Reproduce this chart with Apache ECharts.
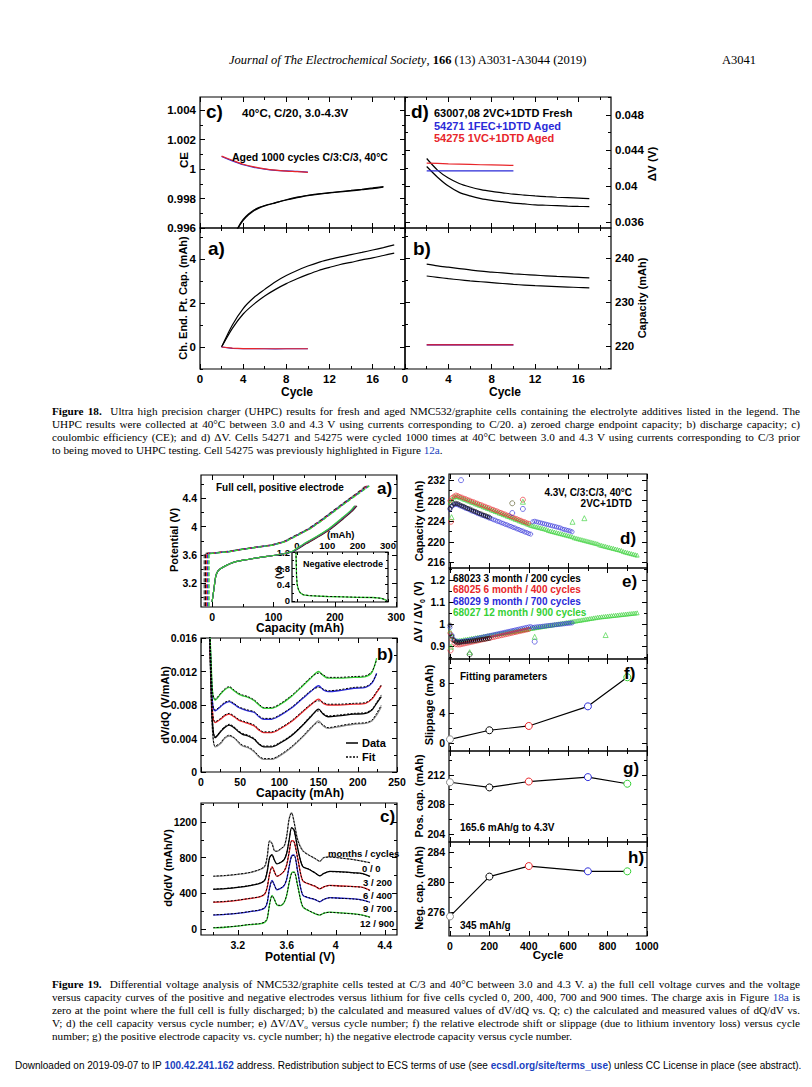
<!DOCTYPE html>
<html>
<head>
<meta charset="utf-8">
<script src="https://cdn.jsdelivr.net/npm/echarts@6.0.0/dist/echarts.min.js"></script>
<style>
html,body{margin:0;padding:0;background:#fff;}
#page{position:relative;width:812px;height:1087px;overflow:hidden;background:#fff;}
#chart{position:absolute;left:0;top:0;width:812px;height:1087px;}
.serif{font-family:"Liberation Serif","Times New Roman",serif;color:#000;}
.hdr{position:absolute;top:52px;font-size:12.5px;line-height:16px;white-space:nowrap;}
.cap{position:absolute;left:52px;width:748px;font-size:11.2px;line-height:13px;}
.cap div{height:13px;text-align:justify;text-align-last:justify;}
.cap div.last{text-align:left;text-align-last:left;}
.sub{font-size:7px;line-height:0;position:relative;top:2px;}
.lnk{color:#1a3fbf;}
.foot{position:absolute;left:15px;top:1059px;font-family:"Liberation Sans Narrow","Liberation Sans",Arial,sans-serif;font-size:10px;line-height:14px;white-space:nowrap;color:#000;}
.foot b{color:#1a3fbf;}
</style>
</head>
<body>
<div id="page">
<div id="chart"></div>
<div class="serif hdr" style="left:229px"><i>Journal of The Electrochemical Society</i>, <b>166</b> (13) A3031-A3044 (2019)</div>
<div class="serif hdr" style="left:722px">A3041</div>
<div class="serif cap" style="top:405px">
<div><b>Figure 18.</b>&nbsp; Ultra high precision charger (UHPC) results for fresh and aged NMC532/graphite cells containing the electrolyte additives listed in the legend. The</div>
<div>UHPC results were collected at 40°C between 3.0 and 4.3 V using currents corresponding to C/20. a) zeroed charge endpoint capacity; b) discharge capacity; c)</div>
<div>coulombic efficiency (CE); and d) ΔV. Cells 54271 and 54275 were cycled 1000 times at 40°C between 3.0 and 4.3 V using currents corresponding to C/3 prior</div>
<div class="last">to being moved to UHPC testing. Cell 54275 was previously highlighted in Figure <span class="lnk">12a</span>.</div>
</div>
<div class="serif cap" style="top:978px">
<div><b>Figure 19.</b>&nbsp; Differential voltage analysis of NMC532/graphite cells tested at C/3 and 40°C between 3.0 and 4.3 V. a) the full cell voltage curves and the voltage</div>
<div>versus capacity curves of the positive and negative electrodes versus lithium for five cells cycled 0, 200, 400, 700 and 900 times. The charge axis in Figure <span class="lnk">18a</span> is</div>
<div>zero at the point where the full cell is fully discharged; b) the calculated and measured values of dV/dQ vs. Q; c) the calculated and measured values of dQ/dV vs.</div>
<div>V; d) the cell capacity versus cycle number; e) ΔV/ΔV<span class="sub">o</span> versus cycle number; f) the relative electrode shift or slippage (due to lithium inventory loss) versus cycle</div>
<div class="last">number; g) the positive electrode capacity vs. cycle number; h) the negative electrode capacity versus cycle number.</div>
</div>
<div class="foot">Downloaded on 2019-09-07 to IP <b>100.42.241.162</b> address. Redistribution subject to ECS terms of use (see <b>ecsdl.org/site/terms_use</b>) unless CC License in place (see abstract).</div>
</div>
<script>
// ======================= DATA =======================
// ---- Figure 18 ----
const F18_XTICKS = [0, 4, 8, 12, 16];
const F18C_YTICKS = [0.996, 0.998, 1.000, 1.002, 1.004];
const F18D_YTICKS = [0.036, 0.040, 0.044, 0.048];
const F18A_YTICKS = [0, 2, 4];
const F18B_YTICKS = [220, 230, 240];

const f18Cyc = [2,3,4,5,6,7,8,9,10,11,12,13,14,15,16,17,18];
const f18aFresh1 = [0,1.0,1.75,2.25,2.62,2.97,3.25,3.48,3.68,3.85,3.98,4.1,4.2,4.3,4.41,4.52,4.64];
const f18aFresh2 = [0,0.85,1.5,1.95,2.32,2.62,2.88,3.1,3.3,3.48,3.62,3.75,3.85,3.96,4.05,4.16,4.27];
const f18AgedCyc = [2,3,4,5,6,7,8,9,10];
const f18aRed  = [0,-0.05,-0.07,-0.07,-0.08,-0.08,-0.08,-0.08,-0.08];
const f18aBlue = [0,-0.06,-0.08,-0.08,-0.08,-0.09,-0.08,-0.08,-0.08];
const f18bCyc = [2,3,4,5,6,7,8,9,10,11,12,13,14,15,16,17];
const f18bFresh1 = [238.6,238.2,237.9,237.6,237.3,237.0,236.8,236.6,236.4,236.25,236.1,235.95,235.8,235.7,235.6,235.5];
const f18bFresh2 = [235.9,235.6,235.3,235.05,234.8,234.6,234.4,234.2,234.0,233.85,233.7,233.6,233.5,233.4,233.3,233.2];
const f18bRed  = [220.3,220.3,220.3,220.3,220.3,220.3,220.3,220.3,220.3];
const f18bBlue = [220.25,220.25,220.25,220.25,220.25,220.25,220.25,220.25,220.25];
const f18cFreshCyc = [3,3.5,4,4.5,5,5.5,6,7,8,9,10,11,12,13,14,15,16,17];
const f18cFresh1 = [0.9952,0.9960,0.99658,0.99695,0.99722,0.99740,0.99753,0.99772,0.9979,0.99806,0.9982,0.9983,0.9984,0.99848,0.99855,0.99863,0.99872,0.99882];
const f18cFresh2 = [0.9951,0.99595,0.99652,0.9969,0.99718,0.99737,0.99750,0.99771,0.99792,0.9981,0.99822,0.99832,0.99838,0.99845,0.99852,0.9986,0.99868,0.99878];
const f18cRed  = [1.00088,1.00060,1.00033,1.00015,1.00002,0.99993,0.99987,0.99983,0.99978];
const f18cBlue = [1.00086,1.00056,1.00030,1.00012,1.00000,0.99992,0.99988,0.99985,0.99980];
const f18dCyc = [2,3,4,5,6,7,8,9,10,11,12,13,14,15,16,17];
const f18dFresh1 = [0.0431,0.0418,0.0409,0.0403,0.0399,0.0396,0.0394,0.03925,0.0391,0.0390,0.0389,0.03882,0.03875,0.0387,0.03865,0.0386];
const f18dFresh2 = [0.0422,0.0410,0.0400,0.0393,0.0389,0.0386,0.0384,0.03825,0.0381,0.0380,0.0379,0.03785,0.0378,0.03775,0.03772,0.0377];
const f18dRed  = [0.04258,0.04255,0.0425,0.04247,0.04244,0.0424,0.04238,0.04235,0.04232];
const f18dBlue = [0.04172,0.04172,0.04172,0.04172,0.04172,0.04172,0.04172,0.04172,0.04172];

// ---- Figure 19 a ----
const F19A_XTICKS = [0, 100, 200, 300];
const F19A_YTICKS = [3.2, 3.6, 4.0, 4.4];
const INSET_XTICKS = [0, 100, 200, 300];
const INSET_YTICKS = [0, 0.4, 0.8, 1.2];
const posV = [2.88,3.62,3.63,3.65,3.68,3.71,3.74,3.79,3.88,3.97,4.09,4.22,4.35,4.47,4.57];
const posCapGray  = [-13,-13,4,26,47,72,97,117,137,157,177,197,217,236,250];
const posCapBlack = [-11,-11,6,27,48,73,98,118,138,158,178,198,218,237,252];
const posCapRed   = [-9,-9,7,28,49,74,99,119,139,159,179,199,219,238,253];
const posCapBlue  = [-7,-7,8,29,49,74,99,119,139,159,179,199,219,239,255];
const posCapGreen = [-5,-5,10,30,50,75,100,120,140,160,180,200,220,240,256];
const fullV = [2.94,3.12,3.30,3.38,3.43,3.50,3.54,3.57,3.60,3.65,3.76,3.86,3.97,4.11,4.22,4.29];
const fullCapGray  = [0,3,6,10,18,36,60,81,105,133,154,174,194,214,229,236];
const fullCapBlack = [0,3,6,10,18,36,60,81,105,132,153,173,193,213,228,235];
const fullCapRed   = [0,3,6,10,18,36,60,81,105,131,152,172,192,212,227,234];
const fullCapBlue  = [0,3,6,10,18,36,60,81,105,131,151,171,191,211,226,233];
const fullCapGreen = [0,3,6,10,18,36,60,81,105,130,150,170,190,210,225,232];
const negCap = [-3,-2,-1,1,5,11,21,40,70,100,150,200,250,275,288,296];
const negV   = [1.2,0.9,0.6,0.4,0.28,0.2,0.15,0.13,0.12,0.11,0.10,0.09,0.085,0.07,0.04,0.01];
const negFitV= [1.2,0.92,0.62,0.41,0.29,0.2,0.155,0.132,0.121,0.112,0.101,0.092,0.084,0.068,0.042,0.012];

// ---- Figure 19 b (dV/dQ) ----
const F19B_XTICKS = [0, 50, 100, 150, 200, 250];
const F19B_YTICKS = [0, 0.004, 0.008, 0.012, 0.016];
const bCap = [10,13,15,18,25,30,36,42,48,53,60,68,74,80,90,100,115,130,140,150,156,162,175,195,210,218,224,230];
const bGray  = [0.0200,0.0090,0.0045,0.0030,0.0034,0.0040,0.0043,0.0041,0.0035,0.0031,0.0029,0.0024,0.0018,0.0015,0.0015,0.0019,0.0029,0.0042,0.0052,0.0061,0.0055,0.0052,0.0054,0.0057,0.0058,0.0061,0.0068,0.0078];
const bBlack = [0.0200,0.0100,0.0055,0.0041,0.0048,0.0053,0.0056,0.0053,0.0048,0.0045,0.0043,0.0039,0.0033,0.0030,0.0030,0.0034,0.0043,0.0056,0.0066,0.0075,0.0069,0.0066,0.0067,0.0069,0.0070,0.0074,0.0082,0.0090];
const bRed   = [0.0200,0.0110,0.0068,0.0059,0.0063,0.0067,0.0069,0.0066,0.0062,0.0060,0.0058,0.0055,0.0050,0.0047,0.0047,0.0051,0.0060,0.0072,0.0080,0.0087,0.0082,0.0080,0.0080,0.0081,0.0082,0.0087,0.0095,0.0103];
const bBlue  = [0.0200,0.0120,0.0080,0.0073,0.0078,0.0082,0.0084,0.0081,0.0077,0.0075,0.0073,0.0071,0.0066,0.0063,0.0063,0.0067,0.0076,0.0088,0.0096,0.0103,0.0098,0.0096,0.0097,0.0100,0.0101,0.0106,0.0118];
const bGreen = [0.0200,0.0130,0.0093,0.0086,0.0093,0.0098,0.0101,0.0097,0.0093,0.0091,0.0089,0.0085,0.0080,0.0076,0.0076,0.0080,0.0090,0.0103,0.0112,0.0120,0.0115,0.0112,0.0112,0.0113,0.0114,0.0119,0.0136];
const bGrayFit  = [0.0200,0.0088,0.0046,0.0031,0.0035,0.0041,0.0044,0.0041,0.0036,0.0032,0.0030,0.0025,0.0019,0.0016,0.0016,0.0020,0.0030,0.0043,0.0053,0.0059,0.0056,0.0053,0.0055,0.0058,0.0059,0.0062,0.0070,0.0080];
const bBlackFit = [0.0200,0.0098,0.0056,0.0042,0.0049,0.0054,0.0057,0.0054,0.0049,0.0046,0.0044,0.0040,0.0034,0.0031,0.0031,0.0035,0.0044,0.0057,0.0067,0.0073,0.0070,0.0067,0.0068,0.0070,0.0071,0.0075,0.0083,0.0092];
const bRedFit   = [0.0200,0.0108,0.0069,0.0060,0.0064,0.0068,0.0070,0.0067,0.0063,0.0061,0.0059,0.0056,0.0051,0.0048,0.0048,0.0052,0.0061,0.0073,0.0081,0.0085,0.0083,0.0081,0.0081,0.0082,0.0083,0.0088,0.0096,0.0104];
const bBlueFit  = [0.0200,0.0118,0.0081,0.0074,0.0079,0.0083,0.0085,0.0082,0.0078,0.0076,0.0074,0.0072,0.0067,0.0064,0.0064,0.0068,0.0077,0.0089,0.0097,0.0101,0.0099,0.0097,0.0098,0.0101,0.0102,0.0107,0.0117];
const bGreenFit = [0.0200,0.0128,0.0094,0.0087,0.0094,0.0099,0.0102,0.0098,0.0094,0.0092,0.0090,0.0086,0.0081,0.0077,0.0077,0.0081,0.0091,0.0104,0.0113,0.0118,0.0116,0.0113,0.0113,0.0114,0.0115,0.0120,0.0134];

// ---- Figure 19 c (dQ/dV) ----
const F19C_XTICKS = [3.2, 3.6, 4.0, 4.4];
const F19C_YTICKS = [0, 400, 800, 1200];
const cV = [3.00,3.10,3.20,3.30,3.38,3.42,3.44,3.46,3.48,3.50,3.52,3.55,3.58,3.60,3.62,3.64,3.66,3.69,3.73,3.78,3.83,3.87,3.90,3.95,4.05,4.15,4.22,4.28];
const cGray  = [589,598,612,632,665,700,800,990,960,880,870,895,930,1040,1240,1305,1200,1000,880,830,790,758,800,808,795,778,760,745];
const cBlack = [444,453,467,487,511,545,640,800,833,770,730,745,780,850,1000,1135,1110,900,700,670,630,595,620,645,640,630,620,590];
const cRed   = [300,308,322,342,360,390,460,620,700,640,590,610,650,720,860,990,980,790,540,505,480,450,470,489,482,476,467,433];
const cBlue  = [156,163,175,195,212,235,290,460,544,490,440,455,490,560,700,820,830,640,380,350,330,305,330,352,345,338,325,300];
const cGreen = [12,20,32,50,58,75,110,280,378,330,270,262,300,380,520,630,640,480,250,205,172,156,175,189,180,170,156,133];
const cGrayFit  = [592,600,614,634,668,705,810,985,955,875,872,898,935,1050,1235,1300,1195,990,875,828,792,760,798,806,793,776,758,743];
const cBlackFit = [447,455,469,489,514,550,650,795,828,768,732,748,785,855,1005,1130,1105,895,705,672,632,598,622,643,638,628,618,588];
const cRedFit   = [303,310,324,344,363,395,470,615,695,638,592,612,655,725,865,985,975,785,545,507,482,452,472,487,480,474,465,431];
const cBlueFit  = [159,165,177,197,215,240,300,455,540,488,442,458,495,565,705,815,825,635,385,352,332,307,332,350,343,336,323,298];
const cGreenFit = [15,22,34,52,61,80,120,275,372,328,272,265,305,385,525,625,635,475,255,207,174,158,177,187,178,168,154,131];

// ---- Figure 19 d / e (versus cycle) ----
const F19R_XTICKS = [0, 200, 400, 600, 800, 1000];
const F19D_YTICKS = [216, 220, 224, 228, 232];
const F19E_YTICKS = [0.9, 1.0, 1.1, 1.2];
const F19F_YTICKS = [0, 4, 8];
const F19G_YTICKS = [204, 208, 212];
const F19H_YTICKS = [276, 280, 284];
const dCyc = [0,10,20,30,40,50,60,70,80,90,100,110,120,130,140,150,160,170,180,190,200,210,220,230,240,250,260,270,280,290,300,310,320,330,340,350,360,370,380,390,400,410,420,430,440,450,460,470,480,490,500,510,520,530,540,550,560,570,580,590,600,610,620,630,640,650,660,670,680,690,700,710,720,730,740,750,760,770,780,790,800,810,820,830,840,850,860,870,880,890,900,910,920,930,940,950];
const dBlack = [226.5,227.0,227.4,227.5,227.4,227.2,227.0,226.9,226.7,226.5,226.4,226.2,226.0,225.9,225.7,225.5,225.4,225.2,225.1,224.9,224.8];
const dBlue  = [226.3,226.9,227.2,227.3,227.2,227.0,226.9,226.7,226.5,226.4,226.2,226.0,225.9,225.7,225.5,225.4,225.2,225.1,224.9,224.8,224.6,224.5,224.3,224.2,224.0,223.9,223.7,223.6,223.4,223.3,223.1,223.0,222.8,222.7,222.5,222.4,222.2,222.1,221.9,221.8,221.6,221.5];
const dBlue2 = [223.9,224.0,223.9,223.8,223.7,223.6,223.5,223.4,223.3,223.2,223.1,223.0,222.9,222.8,222.7,222.5,222.4,222.3,222.2,222.1,221.95];
const dRed   = [228.0,228.6,228.9,229.1,229.0,228.8,228.7,228.5,228.4,228.2,228.1,227.9,227.8,227.6,227.5,227.3,227.2,227.0,226.9,226.7,226.6,226.4,226.3,226.1,226.0,225.8,225.7,225.5,225.4,225.2,225.1,224.9,224.8,224.6,224.5,224.3,224.2,224.0,223.9,223.7,223.6];
const dGreen = [227.7,228.3,228.7,228.8,228.8,228.6,228.5,228.3,228.2,228.0,227.9,227.7,227.6,227.4,227.3,227.1,227.0,226.8,226.7,226.5,226.4,226.2,226.1,225.9,225.8,225.6,225.5,225.3,225.2,225.0,224.9,224.7,224.6,224.4,224.3,224.1,224.0,223.8,223.7,223.5,223.4,223.2,223.1,223.0,222.9,222.8,222.7,222.6,222.5,222.4,222.2,222.1,222.0,221.9,221.8,221.7,221.6,221.5,221.4,221.3,221.2,221.1,221.0,220.8,220.7,220.6,220.5,220.4,220.3,220.2,220.1,220.0,219.9,219.8,219.7,219.6,219.4,219.3,219.2,219.1,219.0,218.9,218.8,218.7,218.6,218.5,218.4,218.3,218.1,218.0,217.9,217.8,217.7,217.6,217.5,217.4];
const dOutBlack = [[316,227.5]];
const dOutRed   = [[5,223.9],[370,228.2]];
const dOutBlue  = [[56,232.0],[316,225.6],[370,226.4]];
const dOutGreen = [[8,224.8],[370,227.8],[622,223.9],[682,224.6]];
const eBlack = [0.995,0.945,0.925,0.918,0.915,0.916,0.918,0.919,0.920,0.921,0.922,0.923,0.924,0.925,0.927,0.928,0.930,0.931,0.932,0.934,0.935];
const eRed   = [0.958,0.930,0.912,0.906,0.905,0.905,0.907,0.909,0.911,0.913,0.915,0.917,0.919,0.921,0.923,0.925,0.927,0.929,0.931,0.933,0.935,0.937,0.939,0.941,0.943,0.945,0.947,0.949,0.951,0.953,0.955,0.957,0.959,0.961,0.963,0.965,0.967,0.969,0.971,0.973,0.975];
const eBlue  = [0.985,0.950,0.930,0.922,0.920,0.920,0.921,0.922,0.924,0.925,0.927,0.929,0.931,0.933,0.935,0.937,0.939,0.941,0.943,0.945,0.947,0.949,0.951,0.953,0.955,0.957,0.959,0.961,0.963,0.965,0.967,0.969,0.971,0.973,0.975,0.977,0.979,0.981,0.983,0.985,0.987,0.988];
const eBlue2 = [0.985,0.986,0.987,0.988,0.989,0.990,0.991,0.992,0.993,0.994,0.995,0.996,0.997,0.998,0.999,1.000,1.001,1.002,1.003,1.004,1.005];
const eGreen = [0.970,0.945,0.930,0.925,0.925,0.926,0.927,0.929,0.930,0.932,0.933,0.935,0.936,0.938,0.939,0.941,0.942,0.944,0.945,0.947,0.948,0.950,0.951,0.953,0.954,0.956,0.957,0.959,0.960,0.962,0.963,0.965,0.966,0.968,0.969,0.971,0.972,0.974,0.975,0.977,0.978,0.980,0.981,0.983,0.984,0.986,0.987,0.989,0.990,0.992,0.993,0.995,0.996,0.998,0.999,1.001,1.002,1.004,1.005,1.007,1.008,1.010,1.011,1.013,1.014,1.016,1.017,1.019,1.020,1.022,1.023,1.025,1.026,1.028,1.029,1.031,1.032,1.033,1.034,1.035,1.036,1.037,1.038,1.039,1.040,1.041,1.042,1.043,1.044,1.045,1.046,1.047,1.048,1.049,1.050,1.051];
const eOutBlack = [[100,0.862]];
const eOutRed   = [[3,0.88]];
const eOutBlue  = [[430,0.92]];
const eOutGreen = [[5,0.897],[100,0.872],[430,0.942],[790,0.95]];

// ---- Figure 19 f / g / h ----
const fghCyc   = [0, 200, 400, 700, 900];
const slippage = [0.53, 1.73, 2.3, 4.9, 8.76];
const posCapFit= [211.0, 210.3, 211.1, 211.7, 210.8];
const negCapFit= [275.4, 280.7, 282.1, 281.4, 281.4];

// ======================= BUILD =======================
const SANS = '"Liberation Sans", Arial, Helvetica, sans-serif';
const BLK = '#000', RED = '#e8262a', BLU = '#2a2ad8', GRN = '#35d035', GRY = '#8c8c8c';
const grids = [], xAx = [], yAx = [], series = [], graphics = [];

function fmt(v){ return String(parseFloat(Number(v).toFixed(6))); }
function halves(t){ const s=(t[1]-t[0])/2, o=[]; for(let i=-1;i<t.length;i++){ o.push(+(t[0]+s*(2*i+1)).toFixed(8)); } return o; }
function inRange(a,mn,mx){ return a.filter(v=>v>=mn-1e-9 && v<=mx+1e-9); }

function panel(p){
  const g = grids.length;
  grids.push({left:p.l, top:p.t, width:p.w, height:p.h, show:true, borderColor:'#000', borderWidth:1.2,
    backgroundColor:p.bg||'rgba(0,0,0,0)', containLabel:false, outerBoundsMode:'none', z:p.z||0});
  const fs = p.fs||11, TL = p.tl||5, TM = p.tm||3;
  function ax(a,pos,ticks,len,lab){
    return {type:'value', gridIndex:g, position:pos, min:a.min, max:a.max, offset:0,
      axisLine:{show:false,onZero:false}, splitLine:{show:false}, splitArea:{show:false},
      axisTick:{show:true, inside:true, length:len, customValues:ticks, lineStyle:{color:'#000',width:1}},
      axisLabel: lab ? {show:true, customValues:lab, formatter:fmt, color:'#000', fontSize:fs, fontWeight:'bold',
        fontFamily:SANS, margin:p.lm||4, hideOverlap:false} : {show:false},
      z:p.z||0};
  }
  const X=p.x, Y=p.y;
  const xpos=X.side||'bottom', xopp=xpos==='bottom'?'top':'bottom';
  const ypos=Y.side||'left',  yopp=ypos==='left'?'right':'left';
  const xm=inRange(halves(X.major),X.min,X.max), ym=inRange(halves(Y.major),Y.min,Y.max);
  const xi=xAx.length;
  xAx.push(ax(X,xpos,X.major,TL,X.labels?X.major:null), ax(X,xpos,xm,TM,null), ax(X,xopp,X.major,TL,null), ax(X,xopp,xm,TM,null));
  const yi=yAx.length;
  yAx.push(ax(Y,ypos,Y.major,TL,Y.labels===false?null:Y.major), ax(Y,ypos,ym,TM,null), ax(Y,yopp,Y.major,TL,null), ax(Y,yopp,ym,TM,null));
  return {xi, yi};
}
function zip(xs,ys){ return ys.map((y,i)=>[xs[i],y]); }
function line(P,data,color,o){ o=o||{};
  series.push({type:'line', xAxisIndex:P.xi, yAxisIndex:P.yi, data, symbol:'none', showSymbol:false, clip:true,
    smooth:o.smooth||0, lineStyle:{color, width:o.w||1.2, type:o.dash||'solid'}, z:o.z||2, silent:true, animation:false});
}
function scat(P,data,color,sym,size){
  series.push({type:'scatter', xAxisIndex:P.xi, yAxisIndex:P.yi, data, symbol:sym||'circle', symbolSize:size||4,
    itemStyle:{color:'rgba(0,0,0,0)', borderColor:color, borderWidth:0.8}, silent:true, animation:false, z:3});
}
function ptsLine(P,xs,ys,cols){
  series.push({type:'line', xAxisIndex:P.xi, yAxisIndex:P.yi, symbol:'circle', symbolSize:7, showSymbol:true,
    data: xs.map((x,i)=>({value:[x,ys[i]], itemStyle:{borderColor:cols[i]}})),
    itemStyle:{color:'#fff', borderWidth:1}, lineStyle:{color:'#000', width:1.2}, silent:true, animation:false, z:3});
}
function txt(x,y,text,o){ o=o||{};
  graphics.push({type:'text', x, y, rotation:o.rot?Math.PI/2:0, z:100, silent:true,
    style:{text, fill:o.c||'#000', fontSize:o.s||11, fontWeight:o.w||'bold', fontFamily:SANS,
      textAlign:o.a||'left', textVerticalAlign:'middle', rich:o.rich}});
}
function seg(x1,y1,x2,y2,dash){
  graphics.push({type:'line', z:100, silent:true, shape:{x1,y1,x2,y2}, style:{stroke:'#000', lineWidth:1.5, lineDash:dash||null}});
}

// ---------- Figure 18 ----------
const x18 = {min:0, max:19, major:F18_XTICKS};
const P18c = panel({l:200,t:97,w:205,h:131, fs:11.5, x:{...x18}, y:{min:0.996,max:1.0049,major:F18C_YTICKS,side:'left'}});
const P18d = panel({l:405,t:97,w:206,h:131, fs:11.5, x:{...x18}, y:{min:0.0353,max:0.0500,major:F18D_YTICKS,side:'right'}});
const P18a = panel({l:200,t:228,w:205,h:141, fs:11.5, x:{...x18,labels:true}, y:{min:-1,max:5.41,major:F18A_YTICKS,side:'left'}});
const P18b = panel({l:405,t:228,w:206,h:141, fs:11.5, x:{...x18,labels:true}, y:{min:214.8,max:246.8,major:F18B_YTICKS,side:'right'}});

line(P18c, zip(f18cFreshCyc,f18cFresh1), BLK, {smooth:0.3});
line(P18c, zip(f18cFreshCyc,f18cFresh2), BLK, {smooth:0.3});
line(P18c, zip(f18AgedCyc,f18cBlue), BLU, {smooth:0.3});
line(P18c, zip(f18AgedCyc,f18cRed), RED, {smooth:0.3});
line(P18d, zip(f18dCyc,f18dFresh1), BLK, {smooth:0.3});
line(P18d, zip(f18dCyc,f18dFresh2), BLK, {smooth:0.3});
line(P18d, zip(f18AgedCyc,f18dBlue), BLU);
line(P18d, zip(f18AgedCyc,f18dRed), RED);
line(P18a, zip(f18Cyc,f18aFresh1), BLK, {smooth:0.3});
line(P18a, zip(f18Cyc,f18aFresh2), BLK, {smooth:0.3});
line(P18a, zip(f18AgedCyc,f18aBlue), BLU);
line(P18a, zip(f18AgedCyc,f18aRed), RED);
line(P18b, zip(f18bCyc,f18bFresh1), BLK, {smooth:0.3});
line(P18b, zip(f18bCyc,f18bFresh2), BLK, {smooth:0.3});
line(P18b, zip(f18AgedCyc,f18bBlue), BLU);
line(P18b, zip(f18AgedCyc,f18bRed), '#c0204a', {w:1.5});

txt(206,111,'c)',{s:19});
txt(242,113,'40°C, C/20, 3.0-4.3V',{s:11.5});
txt(232,157,'Aged 1000 cycles C/3:C/3, 40°C',{s:10.5});
txt(411,111,'d)',{s:19});
txt(434,113,'63007,08 2VC+1DTD Fresh',{s:11});
txt(434,126,'54271 1FEC+1DTD Aged',{s:11,c:BLU});
txt(434,138,'54275 1VC+1DTD Aged',{s:11,c:RED});
txt(208,248,'a)',{s:19});
txt(413,248,'b)',{s:19});
txt(184,160,'CE',{rot:1,a:'center',s:11.5});
txt(183,298,'Ch. End. Pt. Cap. (mAh)',{rot:1,a:'center',s:11});
txt(652,164,'ΔV (V)',{rot:1,a:'center',s:11.5});
txt(642,298,'Capacity (mAh)',{rot:1,a:'center',s:11});
txt(297,392,'Cycle',{a:'center',s:12});
txt(505,392,'Cycle',{a:'center',s:12});

// ---------- Figure 19 a ----------
const P19a = panel({l:201,t:475,w:196,h:132, fs:10.5, x:{min:-18,max:301,major:F19A_XTICKS,labels:true}, y:{min:2.87,max:4.723,major:F19A_YTICKS,side:'left'}});
const dash = [4,2];
line(P19a, zip(fullCapGray,fullV), GRY, {smooth:0.2});
line(P19a, zip(fullCapBlack,fullV), BLK, {smooth:0.2});
line(P19a, zip(fullCapRed,fullV), RED, {smooth:0.2});
line(P19a, zip(fullCapBlue,fullV), BLU, {smooth:0.2});
line(P19a, zip(fullCapGreen,fullV), GRN, {smooth:0.2});
line(P19a, zip(posCapGray,posV), GRY, {dash, w:1.4});
line(P19a, zip(posCapBlack,posV), BLK, {dash, w:1.4});
line(P19a, zip(posCapRed,posV), RED, {dash, w:1.4});
line(P19a, zip(posCapBlue,posV), BLU, {dash, w:1.4});
line(P19a, zip(posCapGreen,posV), GRN, {dash, w:1.4});
const P19i = panel({l:292,t:552,w:96,h:50, fs:9.5, tl:3, tm:2, lm:2, bg:'#fff', z:1,
  x:{min:-16,max:300,major:INSET_XTICKS,labels:true,side:'top'}, y:{min:-0.025,max:1.2,major:INSET_YTICKS,side:'left'}});
line(P19i, zip(negCap,negV), GRN, {w:1.3, z:4});
line(P19i, zip(negCap,negFitV), BLK, {dash:[2,2], w:1, z:5});
txt(216,487,'Full cell, positive electrode',{s:10});
txt(377,488,'a)',{s:17});
txt(327,534,'(mAh)',{s:9.5});
txt(303,564,'Negative electrode',{s:9});
txt(279,573,'(V)',{rot:1,a:'center',s:9});
txt(174,540,'Potential (V)',{rot:1,a:'center',s:11});
txt(300,628,'Capacity (mAh)',{a:'center',s:12});

// ---------- Figure 19 b ----------
const P19b = panel({l:201,t:638,w:196,h:134, fs:10.5, x:{min:0,max:250,major:F19B_XTICKS,labels:true}, y:{min:0,max:0.016,major:F19B_YTICKS,side:'left'}});
[[bGray,GRY],[bBlack,BLK],[bRed,RED],[bBlue,BLU],[bGreen,GRN]].forEach(([d,c])=>line(P19b, zip(bCap,d), c, {smooth:0.3,w:1.3}));
[bGrayFit,bBlackFit,bRedFit,bBlueFit,bGreenFit].forEach(d=>line(P19b, zip(bCap,d), BLK, {smooth:0.3,w:1,dash:[2,1.5],z:3}));
txt(377,654,'b)',{s:17});
seg(346,743,358,743); txt(362,743,'Data',{s:11});
seg(346,757,358,757,[2,1.5]); txt(362,757,'Fit',{s:11});
txt(165,705,'dV/dQ (V/mAh)',{rot:1,a:'center',s:11});
txt(300,793,'Capacity (mAh)',{a:'center',s:12});

// ---------- Figure 19 c ----------
const P19c = panel({l:201,t:803,w:196,h:132, fs:10.5, x:{min:2.9,max:4.5,major:F19C_XTICKS,labels:true}, y:{min:-67,max:1412,major:F19C_YTICKS,side:'left'}});
[[cGray,GRY],[cBlack,BLK],[cRed,RED],[cBlue,BLU],[cGreen,GRN]].forEach(([d,c])=>line(P19c, zip(cV,d), c, {smooth:0.3,w:1.3}));
[cGrayFit,cBlackFit,cRedFit,cBlueFit,cGreenFit].forEach(d=>line(P19c, zip(cV,d), BLK, {smooth:0.3,w:1,dash:[2,1.5],z:3}));
txt(380,816,'c)',{s:17});
txt(328,853,'months / cycles',{s:9.5});
txt(362,868,'0 / 0',{s:9.5});
txt(363,882,'3 / 200',{s:9.5});
txt(363,895,'6 / 400',{s:9.5});
txt(363,908,'9 / 700',{s:9.5});
txt(360,923,'12 / 900',{s:9.5});
txt(168,868,'dQ/dV (mAh/V)',{rot:1,a:'center',s:11});
txt(300,957,'Potential (V)',{a:'center',s:12});

// ---------- Figure 19 right column ----------
const xR = {min:-5, max:1000, major:F19R_XTICKS};
const P19d = panel({l:449,t:474,w:198,h:94, fs:10.5, x:{...xR}, y:{min:214.9,max:233.2,major:F19D_YTICKS}});
const P19e = panel({l:449,t:568,w:198,h:91, fs:10.5, x:{...xR}, y:{min:0.841,max:1.255,major:F19E_YTICKS}});
const P19f = panel({l:449,t:659,w:198,h:92, fs:10.5, x:{...xR}, y:{min:-1.02,max:11.18,major:F19F_YTICKS}});
const P19g = panel({l:449,t:751,w:198,h:91, fs:10.5, x:{...xR}, y:{min:202.9,max:215.24,major:F19G_YTICKS}});
const P19h = panel({l:449,t:842,w:198,h:94, fs:10.5, x:{...xR,labels:true}, y:{min:272.8,max:285.3,major:F19H_YTICKS}});

scat(P19d, zip(dCyc,dGreen), GRN, 'triangle', 4);
scat(P19d, zip(dCyc,dBlue), BLU);
scat(P19d, zip(dCyc.slice(42),dBlue2), BLU);
scat(P19d, zip(dCyc,dRed), RED);
scat(P19d, zip(dCyc,dBlack), BLK);
scat(P19d, dOutBlack, '#555522', 'circle', 5); scat(P19d, dOutRed, RED, 'circle', 5);
scat(P19d, dOutBlue, BLU, 'circle', 5); scat(P19d, dOutGreen, GRN, 'triangle', 5);

scat(P19e, zip(dCyc,eGreen), GRN, 'triangle', 4);
scat(P19e, zip(dCyc,eBlue), BLU);
scat(P19e, zip(dCyc.slice(42),eBlue2), BLU);
scat(P19e, zip(dCyc,eRed), RED);
scat(P19e, zip(dCyc,eBlack), BLK);
scat(P19e, eOutBlack, BLK, 'circle', 5); scat(P19e, eOutRed, RED, 'circle', 5);
scat(P19e, eOutBlue, BLU, 'circle', 5); scat(P19e, eOutGreen, GRN, 'triangle', 5);

const fghCols = [GRY, BLK, RED, BLU, GRN];
ptsLine(P19f, fghCyc, slippage, fghCols);
ptsLine(P19g, fghCyc, posCapFit, fghCols);
ptsLine(P19h, fghCyc, negCapFit, fghCols);

txt(632,492,'4.3V, C/3:C/3, 40°C',{s:10,a:'right'});
txt(632,503,'2VC+1DTD',{s:10,a:'right'});
txt(620,538,'d)',{s:17});
txt(453,578,'68023 3 month / 200 cycles',{s:10});
txt(453,589.5,'68025 6 month / 400 cycles',{s:10,c:RED});
txt(453,601,'68029 9 month / 700 cycles',{s:10,c:BLU});
txt(453,612,'68027 12 month / 900 cycles',{s:10,c:GRN});
txt(622,581,'e)',{s:17});
txt(460,676,'Fitting parameters',{s:10});
txt(624,673,'f)',{s:17});
txt(460,827,'165.6 mAh/g to 4.3V',{s:10});
txt(623,768,'g)',{s:17});
txt(460,925,'345 mAh/g',{s:10});
txt(628,857,'h)',{s:17});
txt(419,521,'Capacity (mAh)',{rot:1,a:'center',s:11});
txt(418,612,'{a|ΔV / ΔV}{b|0}{a| (V)}',{rot:1,a:'center',s:11,
  rich:{a:{fontSize:11,fontWeight:'bold',fontFamily:SANS,verticalAlign:'bottom'}, b:{fontSize:7,fontWeight:'bold',fontFamily:SANS,verticalAlign:'bottom',padding:[0,0,-2,0]}}});
txt(429,705,'Slippage (mAh)',{rot:1,a:'center',s:11});
txt(419,796,'Pos. cap. (mAh)',{rot:1,a:'center',s:11});
txt(419,888,'Neg. cap. (mAh)',{rot:1,a:'center',s:11});
txt(548,955,'Cycle',{a:'center',s:11.5});

const chart = echarts.init(document.getElementById('chart'), null, {renderer:'svg', width:812, height:1087});
chart.setOption({animation:false, backgroundColor:'rgba(0,0,0,0)', grid:grids, xAxis:xAx, yAxis:yAx, series, graphic:{elements:graphics}});
</script>
</body>
</html>
